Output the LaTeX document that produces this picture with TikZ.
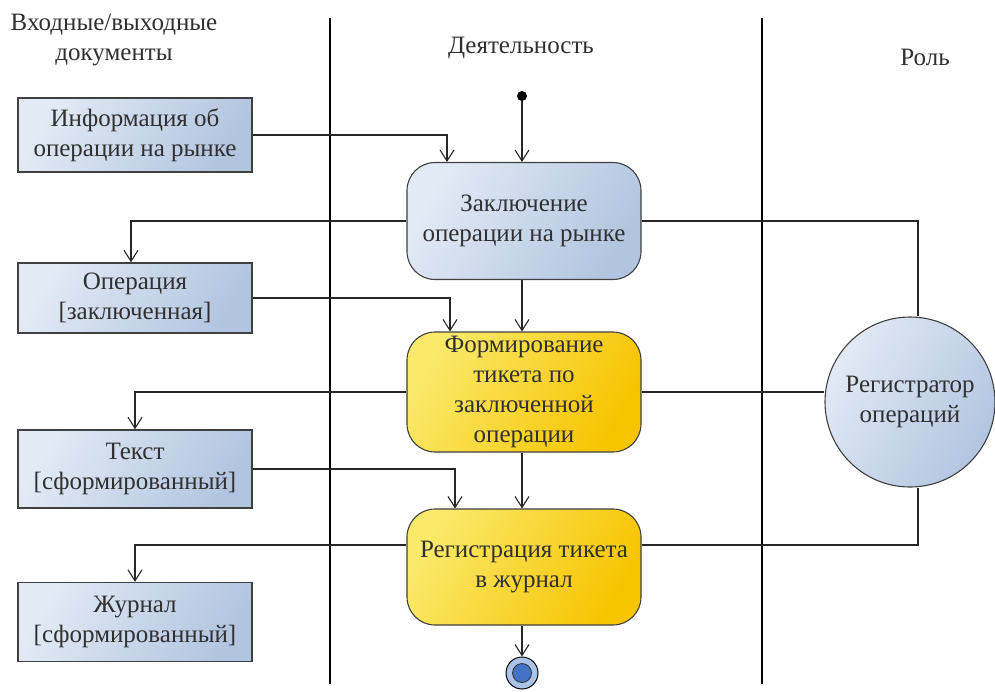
\documentclass[tikz,border=0pt]{standalone}
\usepackage{fontspec}
\setmainfont{Liberation Serif}
\usetikzlibrary{arrows.meta,calc}
\definecolor{blueL}{HTML}{E2EAF5}
\definecolor{blueD}{HTML}{B2C5E0}
\definecolor{yelL}{HTML}{FAE96A}
\definecolor{yelD}{HTML}{F7C400}
\definecolor{txt}{HTML}{303030}
\definecolor{endIn}{HTML}{4472C4}
\definecolor{endOut}{HTML}{A9C4E8}
\begin{document}
\begin{tikzpicture}[x=1pt,y=-1pt,
  font=\fontsize{25}{30}\selectfont,
  every node/.style={text=txt},
  docbox/.style={draw=black!75, line width=1.4pt, minimum width=234pt, minimum height=74pt,
     left color=blueL, right color=blueD, shading angle=60, align=center, inner sep=1pt},
  actblue/.style={draw=black!75, line width=1.1pt, rounded corners=28pt, minimum width=234pt,
     left color=blueL, right color=blueD, shading angle=60, align=center, inner sep=1pt},
  actyel/.style={draw=black!75, line width=1.1pt, rounded corners=28pt, minimum width=234pt,
     left color=yelL, right color=yelD, shading angle=60, align=center, inner sep=1pt},
  lane/.style={line width=1.2pt, black},
  conn/.style={line width=1.1pt, black!85},
  arr/.style={conn, -{Straight Barb[length=11pt,width=14pt,line width=1.1pt]}},
  head/.style={align=center}
]
\useasboundingbox (0,0) rectangle (995,691);

% lanes
\coordinate (l1t) at (330,18); \coordinate (l1b) at (330,684);
\coordinate (l2t) at (762,18); \coordinate (l2b) at (762,684);
\draw[lane] (l1t) -- (l1b);
\draw[lane] (l2t) -- (l2b);

% headers
\node[head] (h1) at (114,40) {Входные/выходные\\документы};
\node[head] (h2) at (521,48) {Деятельность};
\node[head] (h3) at (925,57) {Роль};

% documents
\node[docbox] (doc1) at (135,135) {Информация об\\операции на рынке};
\node[docbox, minimum height=70pt] (doc2) at (135,298) {Операция\\{[заключенная]}};
\node[docbox, minimum height=78pt] (doc3) at (135,469) {Текст\\{[сформированный]}};
\node[docbox, minimum height=79pt] (doc4) at (135,622) {Журнал\\{[сформированный]}};

% activities
\node[actblue, minimum height=117pt] (act1) at (524,221) {Заключение\\операции на рынке};
\node[actyel, minimum height=120pt] (act2) at (524,392) {Формирование\\тикета по\\заключенной\\операции};
\node[actyel, minimum height=116pt] (act3) at (524,567) {Регистрация тикета\\в журнал};

% start / end
\node[circle, fill=black, minimum size=10pt, inner sep=0pt] (start) at (522,96) {};
\node[circle, draw=black, line width=1pt, fill=endOut, minimum size=32pt, inner sep=0pt] (endo) at (522,673) {};
\node[circle, draw=black!80, line width=0.8pt, fill=endIn, minimum size=19pt, inner sep=0pt] (endi) at (endo) {};

% role
\node[circle, draw=black!75, line width=1.1pt, left color=blueL, right color=blueD, shading angle=60,
  minimum size=170pt, align=center, inner sep=0pt] (role) at (910,402) {Регистратор\\операций};

% connectors
\draw[arr] (start) -- (start |- act1.north);
\draw[arr] (doc1.east) -| ([xshift=-77pt]act1.north);
\draw[arr] (act1.west) -| ([xshift=-4pt]doc2.north);
\draw[arr] (doc2.east) -| ([xshift=-74pt]act2.north);
\draw[arr] (act1.south -| start) -- (act2.north -| start);
\draw[arr] (act2.west) -| (doc3.north);
\draw[arr] (doc3.east) -| ([xshift=-69pt]act3.north);
\draw[arr] (act2.south -| start) -- (act3.north -| start);
\draw[arr] ([yshift=22pt]act3.west) -| (doc4.north);
\draw[arr] (act3.south -| start) -- (endo.north);

\draw[conn] (act1.east) -| ([xshift=8pt]role.north);
\draw[conn] (act2.east) -- (act2.east -| role.west);
\draw[conn] ([yshift=22pt]act3.east) -| ([xshift=8pt]role.south);
\end{tikzpicture}
\end{document}
